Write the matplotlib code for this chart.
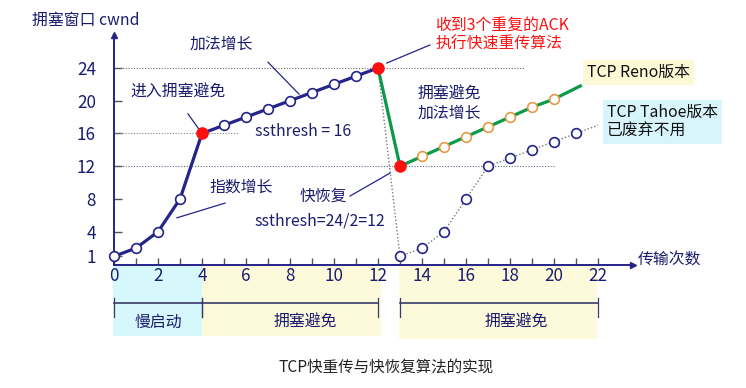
import matplotlib
matplotlib.use("Agg")
import matplotlib.pyplot as plt
from matplotlib.patches import Rectangle

plt.rcParams['font.family'] = ['Noto Sans CJK SC', 'DejaVu Sans']

# ---------------- data ----------------
slow_x = [0, 1, 2, 3, 4, 5, 6, 7, 8, 9, 10, 11, 12]
slow_y = [1, 2, 4, 8, 16, 17, 18, 19, 20, 21, 22, 23, 24]
reno_x = [13, 14, 15, 16, 17, 18, 19, 20]
reno_y = [12, 13.2, 14.4, 15.6, 16.8, 18, 19.2, 20.2]
reno_end = (21.2, 21.8)
tahoe_x = [13, 14, 15, 16, 17, 18, 19, 20, 21]
tahoe_y = [1, 2, 4, 8, 12, 13, 14, 15, 16]
tahoe_end = (22, 17)
yticks = [1, 4, 8, 12, 16, 20, 24]
xticks = [0, 2, 4, 6, 8, 10, 12, 14, 16, 18, 20, 22]
phases = [("慢启动", 0, 4), ("拥塞避免", 4, 12), ("拥塞避免", 13, 22)]

NAVY = "#24248a"
TXT = "#1c1c6e"
GREEN = "#0a9a48"
RED = "#ff1010"
ORANGE = "#e59a45"
FS = 11.4

W, H = 746, 388
fig = plt.figure(figsize=(W / 100, H / 100), dpi=100)
x0px, y0px = 114, 264.5
sx, sy = 22.0, 8.19
xmax, ymax = 23.6, 28
ax = fig.add_axes([x0px / W, (H - y0px) / H, xmax * sx / W, ymax * sy / H])
ax.set_xlim(0, xmax)
ax.set_ylim(0, ymax)
for s in ["top", "right"]:
    ax.spines[s].set_visible(False)
for s in ["left", "bottom"]:
    ax.spines[s].set_color(NAVY)
    ax.spines[s].set_linewidth(1.4)
ax.plot(1, 0, ">", color=NAVY, ms=4, transform=ax.get_yaxis_transform(), clip_on=False)
ax.plot(0, 1, "^", color=NAVY, ms=4, transform=ax.get_xaxis_transform(), clip_on=False)

ax.set_xticks(xticks)
ax.set_xticks(range(1, 23), minor=True)
ax.set_yticks(yticks)
ax.tick_params(axis="x", which="both", direction="in", length=5, width=1, color="#555555",
               labelsize=12.3, labelcolor=TXT, pad=2)
ax.tick_params(axis="y", direction="in", length=6, width=1, color="#555555",
               labelsize=12.3, labelcolor=TXT, pad=13)
ax.set_facecolor("none")

# dotted reference lines
ax.plot([0, 18.7], [24, 24], ls=(0, (1, 1.5)), color="#666666", lw=0.8)
ax.plot([0, 5.7], [16, 16], ls=(0, (1, 1.5)), color="#888888", lw=0.8)
ax.plot([0, 20], [12, 12], ls=(0, (1, 1.5)), color="#666688", lw=0.8)

# Tahoe
ax.plot([12, 13], [24, 1], ls=(0, (1, 1.5)), color="#777777", lw=1)
ax.plot(tahoe_x + [tahoe_end[0]], tahoe_y + [tahoe_end[1]], ls=(0, (1, 1.5)), color="#777777", lw=1)
ax.plot(tahoe_x, tahoe_y, "o", ls="none", ms=7, mfc="white", mec=NAVY, mew=1.2, zorder=5)

# Reno
ax.plot([12] + reno_x + [reno_end[0]], [24] + reno_y + [reno_end[1]], color=GREEN, lw=2.3, zorder=3)
ax.plot(reno_x[1:], reno_y[1:], "o", ls="none", ms=7, mfc="white", mec=ORANGE, mew=1.2, zorder=5)

# slow start + congestion avoidance
ax.plot(slow_x, slow_y, color=NAVY, lw=2.3, zorder=4)
ax.plot(slow_x, slow_y, "o", ls="none", ms=7, mfc="white", mec=NAVY, mew=1.2, zorder=5, clip_on=False)
ax.plot([slow_x[4], slow_x[12], reno_x[0]], [slow_y[4], slow_y[12], reno_y[0]], "o", ls="none",
        ms=8, color=RED, zorder=6)

# annotations
kw = dict(clip_on=False, fontsize=FS)
ax.text(-3.73, 29.85, "拥塞窗口 cwnd", color=TXT, ha="left", va="center", **kw)
ax.text(23.8, 0.55, "传输次数", color=TXT, ha="left", va="center", **kw)
ax.text(3.45, 26.9, "加法增长", color=TXT, ha="left", va="center", **kw)
ax.plot([7.0, 8.41], [24.7, 20.8], color=NAVY, lw=0.9)
ax.text(0.73, 21.06, "进入拥塞避免", color=TXT, ha="left", va="center", **kw)
ax.plot([3.36, 4.0], [18.4, 16.0], color=NAVY, lw=0.9)
ax.text(6.4, 16.3, "ssthresh = 16", color=TXT, ha="left", va="center", **kw)
ax.text(4.36, 9.46, "指数增长", color=TXT, ha="left", va="center", **kw)
ax.plot([5.05, 2.86], [7.5, 5.7], color=NAVY, lw=0.9)
ax.text(8.45, 8.4, "快恢复", color=TXT, ha="left", va="center", **kw)
ax.plot([10.73, 12.55], [8.36, 11.17], color=NAVY, lw=0.9)
ax.text(6.4, 5.3, "ssthresh=24/2=12", color=TXT, ha="left", va="center", **kw)
ax.text(14.6, 29.2, "收到3个重复的ACK", color=RED, ha="left", va="center", **kw)
ax.text(14.6, 26.9, "执行快速重传算法", color=RED, ha="left", va="center", **kw)
ax.plot([12.4, 14.36], [24.6, 26.8], color=NAVY, lw=0.9, clip_on=False)
ax.text(13.8, 20.8, "拥塞避免", color=TXT, ha="left", va="center", **kw)
ax.text(13.8, 18.5, "加法增长", color=TXT, ha="left", va="center", **kw)
ax.text(21.5, 23.4, "TCP Reno版本", color="#111111", ha="left", va="center",
        bbox=dict(boxstyle="square,pad=0.25", fc="#fdf8d6", ec="none"), **kw)
ax.text(22.4, 17.4, "TCP Tahoe版本\n已废弃不用", color="#111111", ha="left", va="center",
        linespacing=1.15, bbox=dict(boxstyle="square,pad=0.25", fc="#d8f5fb", ec="none"), **kw)

# phase bands
band_colors = ["#d6f7fc", "#fdfadc", "#fdfadc"]
band_x = [(-0.05, 4.0), (4.0, 12.14), (12.95, 21.95)]
band_bot = [-8.73, -8.73, -9.1]
label_x = [2.0, 8.68, 18.3]
for (name, a, b), c, (l, r), bot, lx in zip(phases, band_colors, band_x, band_bot, label_x):
    ax.add_patch(Rectangle((l, bot), r - l, -0.06 - bot, fc=c, ec="none", clip_on=False, zorder=0))
    ax.plot([a, b], [-4.7, -4.7], color="#3a3a6a", lw=1.2, clip_on=False)
    ax.plot([a, a], [-4.09, -6.41], color="#3a3a6a", lw=0.9, clip_on=False)
    ax.plot([b, b], [-4.09, -6.41], color="#3a3a6a", lw=0.9, clip_on=False)
    ax.text(lx, -7.0, name, color=TXT, ha="center", va="center", **kw)

fig.text(386 / W, 1 - 368 / H, "TCP快重传与快恢复算法的实现", ha="center", va="center",
         fontsize=11.2, color="#222222")

fig.savefig("out.png", dpi=100)
